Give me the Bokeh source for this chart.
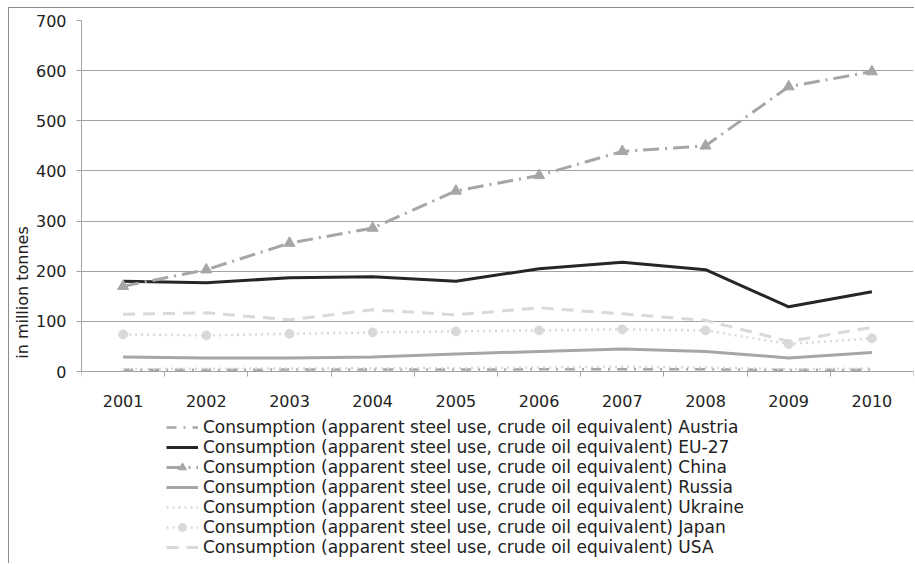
from bokeh.plotting import figure
from bokeh.models import Legend, LegendItem, FixedTicker, Range1d
from bokeh.embed import file_html
from bokeh.resources import INLINE

years = ["2001", "2002", "2003", "2004", "2005", "2006", "2007", "2008", "2009", "2010"]
austria = [3.5, 3.6, 3.8, 3.9, 4.0, 4.3, 4.6, 4.4, 3.2, 3.8]
eu27 = [180, 177, 187, 189, 180, 205, 218, 203, 129, 159]
china = [170, 203, 256, 286, 360, 391, 439, 450, 568, 598]
russia = [29, 27, 27, 29, 35, 40, 45, 40, 27, 38]
ukraine = [5.0, 5.5, 6.0, 6.5, 7.0, 8.0, 9.5, 8.0, 4.5, 6.0]
japan = [74, 72, 75, 78, 80, 82, 84, 82, 55, 66]
usa = [114, 117, 103, 123, 113, 127, 115, 102, 60, 88]
y_ticks = [0, 100, 200, 300, 400, 500, 600, 700]
prefix = "Consumption (apparent steel use, crude oil equivalent) "
names = ["Austria", "EU-27", "China", "Russia", "Ukraine", "Japan", "USA"]

FONT = "DejaVu Sans"
FS = "16px"
LFS = "17px"
TXT = "#222222"
AX = "#a3a3a3"

x = [i + 0.5 for i in range(len(years))]
y_max = y_ticks[-1]
# the plot frame extends below zero down to the bottom of the chart so the legend fits inside it
y_min = -y_max * 193.0 / 351.0

p = figure(width=906, height=556, output_backend="svg", toolbar_location=None,
           x_range=Range1d(0, len(years)), y_range=Range1d(y_min, y_max),
           min_border_left=72, min_border_right=2, min_border_top=12, min_border_bottom=0)
p.outline_line_color = None
p.background_fill_color = "white"
p.border_fill_color = "white"
p.styles = {"margin-left": "8px", "margin-top": "7px",
            "border-top": "1px solid #8c8c8c", "border-left": "1px solid #8c8c8c"}

p.xgrid.grid_line_color = None
p.ygrid.grid_line_color = AX
p.ygrid.grid_line_width = 1

# y axis
p.yaxis.ticker = FixedTicker(ticks=y_ticks, minor_ticks=[])
p.yaxis.bounds = (0, y_max)
p.yaxis.axis_line_color = AX
p.yaxis.major_tick_line_color = AX
p.yaxis.major_tick_out = 5
p.yaxis.major_tick_in = 0
p.yaxis.minor_tick_line_color = None
p.yaxis.major_label_standoff = 10
p.yaxis.major_label_text_font = FONT
p.yaxis.major_label_text_font_size = FS
p.yaxis.major_label_text_color = TXT
p.yaxis.axis_label = "in million tonnes"
p.yaxis.axis_label_text_font = FONT
p.yaxis.axis_label_text_font_size = FS
p.yaxis.axis_label_text_font_style = "normal"
p.yaxis.axis_label_text_color = TXT
p.yaxis.axis_label_standoff = 1

# x axis, pinned at y = 0 inside the frame
p.xaxis.fixed_location = 0
p.xaxis.bounds = (0, len(years))
p.xaxis.ticker = FixedTicker(ticks=x, minor_ticks=list(range(0, len(years) + 1)))
p.xaxis.major_label_overrides = {xi: yr for xi, yr in zip(x, years)}
p.xaxis.axis_line_color = AX
p.xaxis.major_tick_line_color = None
p.xaxis.major_tick_out = 0
p.xaxis.major_tick_in = 0
p.xaxis.minor_tick_line_color = AX
p.xaxis.minor_tick_out = 5
p.xaxis.minor_tick_in = 0
p.xaxis.major_label_standoff = 18
p.xaxis.major_label_text_font = FONT
p.xaxis.major_label_text_font_size = FS
p.xaxis.major_label_text_color = TXT

items = []

r = p.line(x, austria, line_color="#a6a6a6", line_width=2.5, line_dash="10 7 2 7")
items.append(LegendItem(label=prefix + names[0], renderers=[r]))

r = p.line(x, eu27, line_color="#262626", line_width=3)
items.append(LegendItem(label=prefix + names[1], renderers=[r]))

r1 = p.line(x, china, line_color="#a6a6a6", line_width=3, line_dash="16 6 2 6")
r2 = p.scatter(x, china, marker="triangle", size=11, fill_color="#a6a6a6", line_color="#a6a6a6")
items.append(LegendItem(label=prefix + names[2], renderers=[r1, r2]))

r = p.line(x, russia, line_color="#a6a6a6", line_width=3)
items.append(LegendItem(label=prefix + names[3], renderers=[r]))

r = p.line(x, ukraine, line_color="#d9d9d9", line_width=2.5, line_dash="2 4")
items.append(LegendItem(label=prefix + names[4], renderers=[r]))

r1 = p.line(x, japan, line_color="#d9d9d9", line_width=2.5, line_dash="2 4")
r2 = p.scatter(x, japan, marker="circle", size=9, fill_color="#d9d9d9", line_color="#d9d9d9")
items.append(LegendItem(label=prefix + names[5], renderers=[r1, r2]))

r = p.line(x, usa, line_color="#d9d9d9", line_width=3, line_dash="12 8")
items.append(LegendItem(label=prefix + names[6], renderers=[r]))

legend = Legend(items=items, location=(85, 7), orientation="vertical",
                padding=0, spacing=0, margin=0, glyph_width=32, glyph_height=20,
                label_height=20, label_standoff=5,
                label_text_font=FONT, label_text_font_size=LFS, label_text_color=TXT,
                border_line_color=None, background_fill_alpha=0)
p.add_layout(legend, "center")

open("out.html", "w").write(file_html(p, INLINE))
